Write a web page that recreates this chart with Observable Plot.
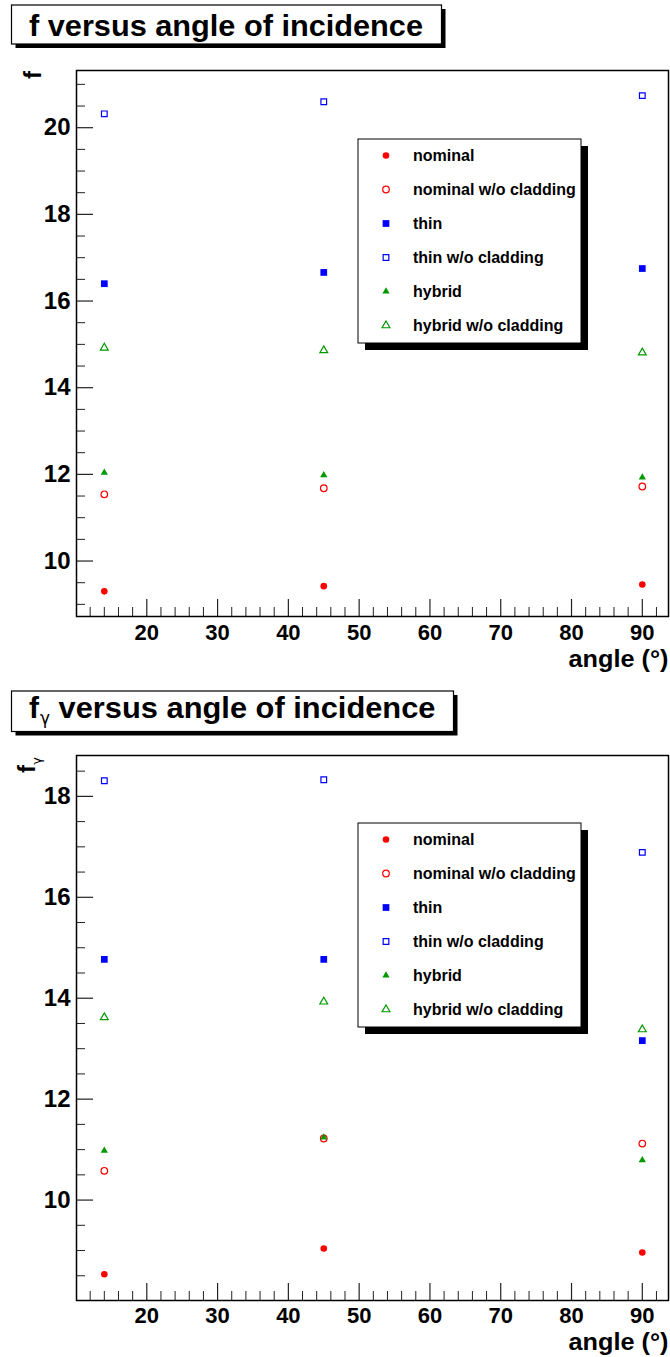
<!DOCTYPE html>
<html>
<head>
<meta charset="utf-8">
<script src="https://cdn.jsdelivr.net/npm/d3@7"></script>
<script src="https://cdn.jsdelivr.net/npm/@observablehq/plot@0.6"></script>
<style>
  html, body { margin: 0; padding: 0; background: #fff; }
  #wrap { position: relative; width: 670px; height: 1357px; overflow: hidden;
          font-family: "Liberation Sans", Arial, Helvetica, sans-serif; font-weight: bold; }
  .panel { position: absolute; left: 0; }
  #overlay { position: absolute; left: 0; top: 0; pointer-events: none; }
</style>
</head>
<body>
<div id="wrap">
  <div id="p1" class="panel" style="top:0px"></div>
  <div id="p2" class="panel" style="top:680px"></div>
  <svg id="overlay" width="670" height="1357"></svg>
</div>
<script>
// ---------- data ----------
const angles = [14, 45, 90];
const seriesNames = ["nominal", "nominal w/o cladding", "thin", "thin w/o cladding", "hybrid", "hybrid w/o cladding"];

// f versus angle of incidence
const fNominal       = [9.30, 9.42, 9.46];
const fNominalNoClad = [11.54, 11.68, 11.72];
const fThin          = [16.40, 16.66, 16.75];
const fThinNoClad    = [20.32, 20.60, 20.74];
const fHybrid        = [12.04, 11.98, 11.93];
const fHybridNoClad  = [14.92, 14.86, 14.81];

// f_gamma versus angle of incidence
const fgNominal       = [8.53, 9.04, 8.96];
const fgNominalNoClad = [10.58, 11.22, 11.12];
const fgThin          = [14.77, 14.77, 13.16];
const fgThinNoClad    = [18.31, 18.33, 16.89];
const fgHybrid        = [10.98, 11.24, 10.79];
const fgHybridNoClad  = [13.62, 13.93, 13.38];

const xTickValues = [20, 30, 40, 50, 60, 70, 80, 90];
const yTickValuesTop = [10, 12, 14, 16, 18, 20];
const yTickValuesBottom = [10, 12, 14, 16, 18];

// ---------- styles ----------
const seriesStyle = [
  {color: "#ff0000", symbol: "circle",   filled: true,  r: 3.3},
  {color: "#ff0000", symbol: "circle",   filled: false, r: 3.3},
  {color: "#0000ff", symbol: "square",   filled: true,  r: 3.8},
  {color: "#0000ff", symbol: "square",   filled: false, r: 3.2},
  {color: "#009900", symbol: "triangle", filled: true,  r: 2.7},
  {color: "#009900", symbol: "triangle", filled: false, r: 2.9}
];
const FONT = "'Liberation Sans', Arial, Helvetica, sans-serif";

function panel(valueLists, yDomain, yTicks, height, mTop, mBottom, xPad, xTitleDy) {
  const W = 670, mLeft = 76, mRight = 2;
  const fw = W - mLeft - mRight, fh = height - mTop - mBottom;
  const rows = [];
  seriesNames.forEach((name, i) => angles.forEach((a, j) =>
    rows.push({series: name, idx: i, angle: a, value: valueLists[i][j]})));
  const xMinor = d3.range(12, 94, 2).filter(v => v % 10 !== 0);
  const yMinor = d3.range(Math.ceil(yDomain[0] * 2) / 2, yDomain[1], 0.5).filter(v => v % 2 !== 0);
  const dots = seriesStyle.map((s, i) => Plot.dot(rows.filter(d => d.idx === i), {
    x: "angle", y: "value", symbol: () => s.symbol, r: s.r,
    fill: s.filled ? s.color : "none",
    stroke: s.filled ? "none" : s.color,
    strokeWidth: 1.2
  }));
  const chart = Plot.plot({
    width: W, height,
    marginTop: mTop, marginBottom: mBottom, marginLeft: mLeft, marginRight: mRight,
    style: {fontFamily: FONT, fontWeight: "bold", background: "white", overflow: "visible"},
    x: {domain: [10.07, 93.7]},
    y: {domain: yDomain},
    symbol: {type: "identity"},
    marks: [
      Plot.ruleX(xMinor, {x: d => d, insetTop: fh - 9, stroke: "#222", strokeWidth: 1}),
      Plot.ruleX(xTickValues, {x: d => d, insetTop: fh - 17, stroke: "#222", strokeWidth: 1.2}),
      Plot.ruleY(yMinor, {y: d => d, insetRight: fw - 9, stroke: "#222", strokeWidth: 1}),
      Plot.ruleY(yTicks, {y: d => d, insetRight: fw - 17, stroke: "#222", strokeWidth: 1.2}),
      Plot.axisX({ticks: xTickValues, tickSize: 0, tickPadding: xPad, label: null, fontSize: 22, fill: "black"}),
      Plot.axisY({ticks: yTicks, tickSize: 0, tickPadding: 6, label: null, fontSize: 24, fill: "black"}),
      Plot.frame({stroke: "black", strokeWidth: 1.5}),
      ...dots,
      Plot.text(["angle (°)"], {frameAnchor: "bottom-right", textAnchor: "end", lineAnchor: "bottom",
        dy: xTitleDy, dx: 0, fontSize: 23, fill: "black", fontWeight: "bold"})
    ]
  });
  // widen the axis title horizontally to match the reference width
  d3.select(chart).selectAll("text").filter(function() { return this.textContent === "angle (°)"; })
    .attr("textLength", 100).attr("lengthAdjust", "spacingAndGlyphs");
  return chart;
}

const topChart = panel([fNominal, fNominalNoClad, fThin, fThinNoClad, fHybrid, fHybridNoClad],
  [8.72, 21.32], yTickValuesTop, 680, 70, 64, 8, 50);
document.getElementById("p1").appendChild(topChart);

const bottomChart = panel([fgNominal, fgNominalNoClad, fgThin, fgThinNoClad, fgHybrid, fgHybridNoClad],
  [8.01, 18.81], yTickValuesBottom, 677, 75, 57, 7, 49);
document.getElementById("p2").appendChild(bottomChart);

// ---------- overlays: titles, y titles, legends ----------
const ov = d3.select("#overlay").style("font-family", FONT).style("font-weight", "bold");

function titleBox(x0, y0, x1, y1) {
  ov.append("rect").attr("x", x0 + 4).attr("y", y0 + 4).attr("width", x1 - x0).attr("height", y1 - y0).attr("fill", "black");
  ov.append("rect").attr("x", x0).attr("y", y0).attr("width", x1 - x0).attr("height", y1 - y0)
    .attr("fill", "white").attr("stroke", "black").attr("stroke-width", 1.2);
}
titleBox(11.5, 5, 441.5, 44);
ov.append("text").attr("x", 29).attr("y", 36).attr("font-size", 30).attr("fill", "black")
  .attr("textLength", 394).attr("lengthAdjust", "spacingAndGlyphs")
  .text("f versus angle of incidence");

titleBox(11.5, 691, 453.5, 731.5);
ov.append("text").attr("x", 29).attr("y", 718).attr("font-size", 30).attr("fill", "black").text("f");
ov.append("text").attr("x", 40).attr("y", 724).attr("font-size", 17).attr("font-weight", "normal")
  .attr("font-family", "'DejaVu Sans', sans-serif").attr("fill", "black").text("γ");
ov.append("text").attr("x", 58.5).attr("y", 718).attr("font-size", 30).attr("fill", "black")
  .attr("textLength", 377).attr("lengthAdjust", "spacingAndGlyphs")
  .text("versus angle of incidence");

// y axis titles
ov.append("text").attr("transform", "translate(41,71) rotate(-90)").attr("text-anchor", "end")
  .attr("font-size", 24).attr("fill", "black").text("f");
ov.append("text").attr("transform", "translate(35,765) rotate(-90)").attr("text-anchor", "end")
  .attr("font-size", 24).attr("fill", "black").text("f");
ov.append("text").attr("transform", "translate(41,757) rotate(-90)").attr("text-anchor", "end")
  .attr("font-size", 13).attr("font-weight", "normal").attr("font-family", "'DejaVu Sans', sans-serif")
  .attr("fill", "black").text("γ");

// legends
const symGen = {circle: d3.symbolCircle, square: d3.symbolSquare, triangle: d3.symbolTriangle};
function legend(x0, y0, x1, y1, rowTop, rowGap) {
  ov.append("rect").attr("x", x0 + 7).attr("y", y0 + 7).attr("width", x1 - x0).attr("height", y1 - y0).attr("fill", "black");
  ov.append("rect").attr("x", x0).attr("y", y0).attr("width", x1 - x0).attr("height", y1 - y0)
    .attr("fill", "white").attr("stroke", "black").attr("stroke-width", 1);
  seriesNames.forEach((name, i) => {
    const s = seriesStyle[i];
    const cy = rowTop + i * rowGap;
    ov.append("path")
      .attr("d", d3.symbol(symGen[s.symbol], s.r * s.r * Math.PI)())
      .attr("transform", `translate(386,${cy})`)
      .attr("fill", s.filled ? s.color : "none")
      .attr("stroke", s.filled ? "none" : s.color)
      .attr("stroke-width", 1.2);
    ov.append("text").attr("x", 413).attr("y", cy).attr("dy", "0.35em")
      .attr("font-size", 16).attr("fill", "black").text(name);
  });
}
legend(358, 139, 581, 343, 155.5, 34);
legend(358, 823, 581, 1027, 839.5, 34);
</script>
</body>
</html>
